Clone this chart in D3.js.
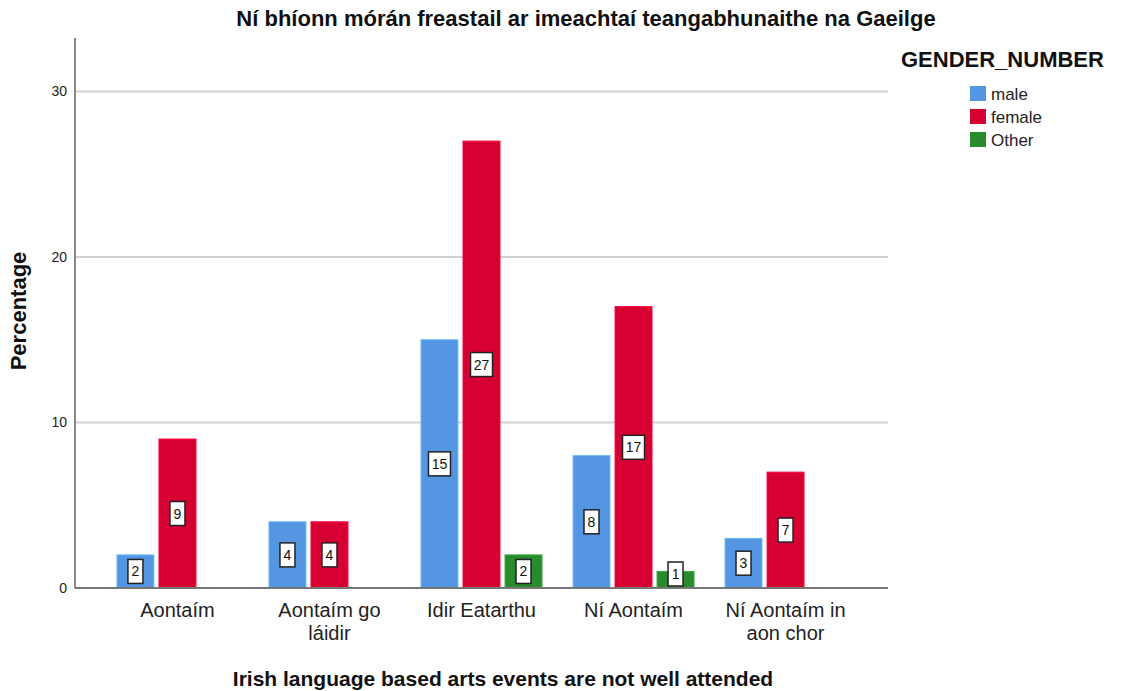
<!DOCTYPE html>
<html>
<head>
<meta charset="utf-8">
<script src="https://cdn.jsdelivr.net/npm/d3@7"></script>
<style>
  body { margin: 0; background: #fff; }
  svg { font-family: "Liberation Sans", Arial, sans-serif; }
</style>
</head>
<body>
<div id="chart"></div>
<script>
var categories = ["Aontaím", "Aontaím go láidir", "Idir Eatarthu", "Ní Aontaím", "Ní Aontaím in aon chor"];
var categoryLines = [["Aontaím"], ["Aontaím go", "láidir"], ["Idir Eatarthu"], ["Ní Aontaím"], ["Ní Aontaím in", "aon chor"]];
var seriesNames = ["male", "female", "Other"];
var maleValues = [2, 4, 15, 8, 3];
var femaleValues = [9, 4, 27, 17, 7];
var otherValues = [null, null, 2, 1, null];
var yTicks = [0, 10, 20, 30];
var colors = ["#5596e2", "#d60032", "#2a8a2e"];

var seriesValues = [maleValues, femaleValues, otherValues];

var chartW = 1121, chartH = 691;
var plotLeft = 75, plotRight = 888, plotTop = 38, plotBottom = 588;

var svg = d3.select("#chart").append("svg")
    .attr("width", chartW)
    .attr("height", chartH);

var y = d3.scaleLinear().domain([0, 33.23]).range([plotBottom, plotTop]);

var x0 = d3.scaleBand()
    .domain(categories)
    .range([plotLeft, plotRight])
    .paddingInner(0.204)
    .paddingOuter(0.276);

var x1 = d3.scaleBand()
    .domain(seriesNames)
    .range([0, x0.bandwidth()])
    .paddingInner(0.12);

// gridlines
svg.append("g")
  .selectAll("line")
  .data(yTicks.filter(function(d) { return d > 0; }))
  .enter().append("line")
    .attr("x1", plotLeft).attr("x2", plotRight)
    .attr("y1", function(d) { return y(d); })
    .attr("y2", function(d) { return y(d); })
    .style("stroke", "#d2d2d2")
    .style("stroke-width", 2);

// bars
var rows = [];
categories.forEach(function(c, i) {
  seriesNames.forEach(function(s, j) {
    var v = seriesValues[j][i];
    if (v != null) rows.push({cat: c, series: s, value: v, color: colors[j]});
  });
});

var bars = svg.append("g").selectAll("g")
  .data(rows)
  .enter().append("g");

bars.append("rect")
    .attr("x", function(d) { return x0(d.cat) + x1(d.series); })
    .attr("y", function(d) { return y(d.value); })
    .attr("width", x1.bandwidth())
    .attr("height", function(d) { return plotBottom - y(d.value); })
    .style("fill", function(d) { return d.color; })
    .style("stroke", function(d) { return d3.color(d.color).brighter(0.6); })
    .style("stroke-width", 1);

// value labels (white boxes)
bars.each(function(d) {
  var g = d3.select(this);
  var cx = x0(d.cat) + x1(d.series) + x1.bandwidth() / 2;
  var cy = Math.min((y(d.value) + plotBottom) / 2, plotBottom - 14);
  var txt = String(d.value);
  var w = txt.length > 1 ? 22 : 15;
  g.append("rect")
    .attr("x", cx - w / 2)
    .attr("y", cy - 12)
    .attr("width", w)
    .attr("height", 24)
    .style("fill", "#fff")
    .style("stroke", "#222")
    .style("stroke-width", 1.5);
  g.append("text")
    .attr("x", cx)
    .attr("y", cy + 5)
    .attr("text-anchor", "middle")
    .style("font-size", "14px")
    .style("fill", "#111")
    .text(txt);
});

// y axis
svg.append("line")
    .attr("x1", plotLeft).attr("x2", plotLeft)
    .attr("y1", plotTop).attr("y2", plotBottom)
    .style("stroke", "#888").style("stroke-width", 2);

svg.append("g").selectAll("text")
  .data(yTicks)
  .enter().append("text")
    .attr("x", 67)
    .attr("y", function(d) { return y(d) + 5; })
    .attr("text-anchor", "end")
    .style("font-size", "14px")
    .style("fill", "#222")
    .text(function(d) { return d; });

// x axis line
svg.append("line")
    .attr("x1", plotLeft).attr("x2", plotRight)
    .attr("y1", plotBottom).attr("y2", plotBottom)
    .style("stroke", "#777").style("stroke-width", 2);

// x tick labels
var xl = svg.append("g").selectAll("text")
  .data(categories)
  .enter().append("text")
    .attr("x", function(d) { return x0(d) + x0.bandwidth() / 2; })
    .attr("y", 617)
    .attr("text-anchor", "middle")
    .style("font-size", "20px")
    .style("fill", "#222");

xl.each(function(d, i) {
  var t = d3.select(this);
  categoryLines[i].forEach(function(line, k) {
    t.append("tspan")
      .attr("x", x0(d) + x0.bandwidth() / 2)
      .attr("dy", k === 0 ? 0 : 23)
      .text(line);
  });
});

// titles
svg.append("text")
    .attr("x", 586)
    .attr("y", 26)
    .attr("text-anchor", "middle")
    .style("font-size", "22px")
    .style("font-weight", "bold")
    .style("fill", "#111")
    .text("Ní bhíonn mórán freastail ar imeachtaí teangabhunaithe na Gaeilge");

svg.append("text")
    .attr("x", 503)
    .attr("y", 686)
    .attr("text-anchor", "middle")
    .style("font-size", "21px")
    .style("font-weight", "bold")
    .style("fill", "#111")
    .text("Irish language based arts events are not well attended");

svg.append("text")
    .attr("transform", "translate(26,311) rotate(-90)")
    .attr("text-anchor", "middle")
    .style("font-size", "22px")
    .style("font-weight", "bold")
    .style("fill", "#111")
    .text("Percentage");

// legend
svg.append("text")
    .attr("x", 901)
    .attr("y", 67)
    .style("font-size", "22px")
    .style("font-weight", "bold")
    .style("fill", "#111")
    .text("GENDER_NUMBER");

var leg = svg.append("g").selectAll("g")
  .data(seriesNames)
  .enter().append("g")
    .attr("transform", function(d, i) { return "translate(970," + (86 + i * 23) + ")"; });

leg.append("rect")
    .attr("width", 16).attr("height", 15)
    .style("fill", function(d, i) { return colors[i]; });

leg.append("text")
    .attr("x", 21)
    .attr("y", 14)
    .style("font-size", "17px")
    .style("fill", "#222")
    .text(function(d) { return d; });
</script>
</body>
</html>
